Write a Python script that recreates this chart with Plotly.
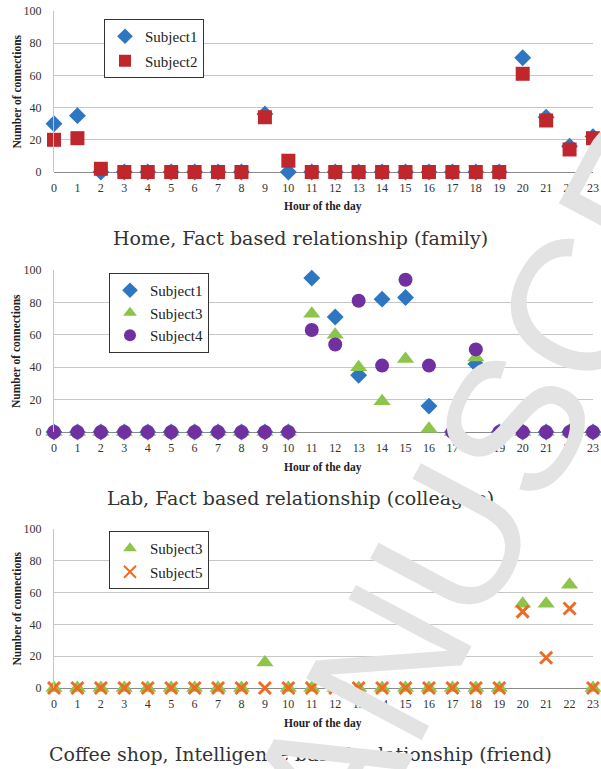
import plotly.graph_objects as go

# ---- data -------------------------------------------------------------
hours = list(range(24))
hour_labels = [str(h) for h in hours]
y_ticks = [0, 20, 40, 60, 80, 100]

# Home, family
home_subject1 = [30, 35, 0, 0, 0, 0, 0, 0, 0, 36, 0, 0, 0, 0, 0, 0, 0, 0, 0, 0, 71, 34, 16, 22]
home_subject2 = [20, 21, 2, 0, 0, 0, 0, 0, 0, 34, 7, 0, 0, 0, 0, 0, 0, 0, 0, 0, 61, 32, 14, 21]

# Lab, colleague
lab_subject1 = [0, 0, 0, 0, 0, 0, 0, 0, 0, 0, 0, 95, 71, 35, 82, 83, 16, 0, 42, 0, 0, 0, 0, 0]
lab_subject3 = [0, 0, 0, 0, 0, 0, 0, 0, 0, 0, 0, 73, 60, 40, 19, 45, 2, 0, 46, 0, 0, 0, 0, 0]
lab_subject4 = [0, 0, 0, 0, 0, 0, 0, 0, 0, 0, 0, 63, 54, 81, 41, 94, 41, 0, 51, 0, 0, 0, 0, 0]

# Coffee shop, friend
cafe_subject3 = [0, 0, 0, 0, 0, 0, 0, 0, 0, 16, 0, 0, 0, 0, 0, 0, 0, 0, 0, 0, 53, 53, 65, 0]
cafe_subject5 = [0, 0, 0, 0, 0, 0, 0, 0, 0, 0, 0, 0, 0, 0, 0, 0, 0, 0, 0, 0, 48, 19, 50, 0]

captions = [
    "Home, Fact based relationship (family)",
    "Lab, Fact based relationship (colleague)",
    "Coffee shop, Intelligence based relationship (friend)",
]

# ---- styling ----------------------------------------------------------
W, H = 601, 769
SERIF = "Liberation Serif"
CAPTION_FONT = "DejaVu Serif"
BLUE, RED, GREEN, PURPLE, ORANGE = "#2e75c2", "#c0272d", "#8dc54b", "#7030a0", "#ef6a22"

STYLE = {
    "Subject1": dict(symbol="diamond", size=13, color=BLUE),
    "Subject2": dict(symbol="square", size=14, color=RED),
    "Subject3": dict(symbol="triangle-up", size=15, color=GREEN),
    "Subject4": dict(symbol="circle", size=14, color=PURPLE),
}

# pixel geometry of each panel: (top of y=100, bottom y=0)
panels = [(11, 172), (270, 432), (529, 688)]
x_left, x_right = 54, 593


def py(px):
    return 1 - px / H


def px_x(px):
    return px / W


fig = go.Figure()

panel_series = [
    [("Subject1", home_subject1), ("Subject2", home_subject2)],
    [("Subject1", lab_subject1), ("Subject3", lab_subject3), ("Subject4", lab_subject4)],
    [("Subject3", cafe_subject3), ("Subject5", cafe_subject5)],
]

# legend box (left, top) in pixels and gap between entries
legend_box = [(104, 19, 2), (109, 273, 0), (109, 531, 1)]

for i, series in enumerate(panel_series):
    sfx = "" if i == 0 else str(i + 1)
    leg = "legend" if i == 0 else f"legend{i + 1}"
    for name, vals in series:
        if name == "Subject5":
            marker = dict(symbol="x-thin", size=12, color=ORANGE,
                          line=dict(color=ORANGE, width=3))
        else:
            st = STYLE[name]
            marker = dict(symbol=st["symbol"], size=st["size"], color=st["color"],
                          line=dict(width=0))
        fig.add_trace(go.Scatter(
            x=hours, y=vals, mode="markers", name=name, marker=marker,
            xaxis="x" + sfx, yaxis="y" + sfx, cliponaxis=False,
            legend=leg, legendgroup=f"{i}-{name}",
        ))

layout = dict(
    width=W, height=H,
    margin=dict(l=0, r=0, t=0, b=0, autoexpand=False),
    paper_bgcolor="white", plot_bgcolor="white",
    font=dict(family=SERIF, color="#333333"),
    showlegend=True,
)

annotations = []
for i, (top, bot) in enumerate(panels):
    sfx = "" if i == 0 else str(i + 1)
    layout["xaxis" + sfx] = dict(
        domain=[px_x(x_left), px_x(x_right)], range=[0, 23],
        tickmode="array", tickvals=hours, ticktext=hour_labels,
        showgrid=False, zeroline=False, showline=False,
        tickfont=dict(family=SERIF, size=12, color="#333333"),
        ticklabelstandoff=7, anchor="y" + sfx, fixedrange=True,
    )
    layout["yaxis" + sfx] = dict(
        domain=[py(bot), py(top)], range=[0, 100],
        tickmode="array", tickvals=y_ticks,
        showgrid=True, gridcolor="#c6c6c6", gridwidth=1,
        zeroline=True, zerolinecolor="#8a8a8a", zerolinewidth=1,
        showline=True, linecolor="#c6c6c6", linewidth=1,
        tickfont=dict(family=SERIF, size=12, color="#333333"),
        ticklabelstandoff=9, anchor="x" + sfx, fixedrange=True,
    )
    annotations.append(dict(
        text="<b>Hour of the day</b>", xref="paper", yref="paper",
        x=px_x(323), y=py(bot + 35), showarrow=False,
        font=dict(family=SERIF, size=11.5, color="#222222"),
        xanchor="center", yanchor="middle",
    ))
    annotations.append(dict(
        text="<b>Number of connections</b>", xref="paper", yref="paper",
        x=px_x(16), y=py((top + bot) / 2), showarrow=False, textangle=-90,
        font=dict(family=SERIF, size=11.5, color="#222222"),
        xanchor="center", yanchor="middle",
    ))
    annotations.append(dict(
        text=captions[i], xref="paper", yref="paper",
        x=px_x(300), y=py(bot + 66), showarrow=False,
        font=dict(family=CAPTION_FONT, size=19, color="#333333"),
        xanchor="center", yanchor="middle",
    ))
    lx, ly, gap = legend_box[i]
    key = "legend" if i == 0 else f"legend{i + 1}"
    layout[key] = dict(
        x=px_x(lx), y=py(ly), xanchor="left", yanchor="top",
        bgcolor="white", bordercolor="#333333", borderwidth=1,
        font=dict(family="Liberation Serif", size=15, color="#222222"),
        tracegroupgap=gap, itemsizing="constant", itemwidth=30,
    )

# diagonal watermark running across the page
annotations.append(dict(
    text="MANUSCRIPT", xref="paper", yref="paper",
    x=px_x(517), y=py(420), showarrow=False, textangle=-62,
    font=dict(family="Liberation Sans", size=190, color="#e3e3e3"),
    xanchor="center", yanchor="middle",
))

layout["annotations"] = annotations
fig.update_layout(**layout)

fig.write_html("out.html")
